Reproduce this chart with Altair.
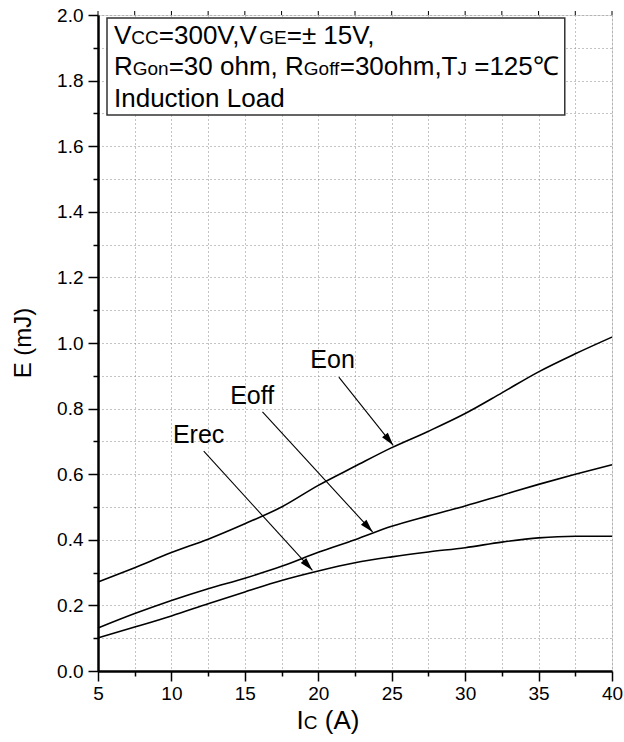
import math
import altair as alt
import pandas as pd

# ---------------- data ----------------
ic = [5, 7.5, 10, 12.5, 15, 17.5, 20, 22.5, 25, 27.5, 30, 32.5, 35, 37.5, 40]
eon = [0.271, 0.315, 0.361, 0.402, 0.449, 0.500, 0.566, 0.624, 0.681, 0.731, 0.785, 0.848, 0.912, 0.967, 1.018]
eoff = [0.131, 0.175, 0.215, 0.251, 0.283, 0.319, 0.362, 0.400, 0.441, 0.473, 0.503, 0.536, 0.569, 0.600, 0.629]
erec = [0.101, 0.134, 0.168, 0.205, 0.241, 0.276, 0.305, 0.330, 0.348, 0.363, 0.376, 0.393, 0.406, 0.411, 0.411]

x_ticks = [5, 7.5, 10, 12.5, 15, 17.5, 20, 22.5, 25, 27.5, 30, 32.5, 35, 37.5, 40]
y_ticks = [round(i * 0.1, 1) for i in range(21)]

label_names = ["Eon", "Eoff", "Erec"]
label_x = [20.97, 15.5, 11.85]
label_y = [0.947, 0.838, 0.718]
arrow_x1 = [21.4, 16.2, 12.2]
arrow_y1 = [0.896, 0.790, 0.670]
arrow_x2 = [25.1, 23.7, 19.6]
arrow_y2 = [0.688, 0.424, 0.307]

# ---------------- layout ----------------
W, H = 514, 656
XMIN, XMAX, YMIN, YMAX = 5, 40, 0, 2
FONT = "Liberation Sans"
F_BIG, F_SUB = 26, 19

rows = []
for name, vals in (("Eon", eon), ("Eoff", eoff), ("Erec", erec)):
    for xv, yv in zip(ic, vals):
        rows.append({"ic": xv, "e": yv, "s": name})
curves = pd.DataFrame(rows)

xs = W / (XMAX - XMIN)
ys = H / (YMAX - YMIN)
angles = []
for a, b, c, d in zip(arrow_x1, arrow_y1, arrow_x2, arrow_y2):
    dx = (c - a) * xs
    dy = -(d - b) * ys
    angles.append(math.degrees(math.atan2(dx, -dy)))
labels = pd.DataFrame({"t": label_names, "lx": label_x, "ly": label_y})
arrows = pd.DataFrame({"x1": arrow_x1, "y1": arrow_y1, "x2": arrow_x2, "y2": arrow_y2, "ang": angles})
topticks = pd.DataFrame({"tx": x_ticks})

xsc = alt.Scale(domain=[XMIN, XMAX], nice=False, zero=False)
ysc = alt.Scale(domain=[YMIN, YMAX], nice=False, zero=False)

x_axis = alt.Axis(
    values=x_ticks, title=None, grid=True, gridDash=[1, 3], gridColor="#888", gridWidth=1,
    labelExpr="datum.value % 5 == 0 ? datum.label : ''",
    tickSize={"condition": {"test": "datum.value % 5 != 0", "value": 5}, "value": 10},
    tickColor="black", tickWidth=1.5, domainColor="black", domainWidth=2.5,
    labelFont=FONT, labelFontSize=19, labelColor="black", labelPadding=3, labelFlush=False,
)
y_axis = alt.Axis(
    values=y_ticks, title=None, grid=True, gridDash=[1, 3], gridColor="#888", gridWidth=1,
    labelExpr="round(datum.value*10) % 2 == 0 ? format(datum.value, '.1f') : ''",
    tickSize={"condition": {"test": "round(datum.value*10) % 2 == 1", "value": 5}, "value": 10},
    tickColor="black", tickWidth=1.5, domainColor="black", domainWidth=2.5,
    labelFont=FONT, labelFontSize=19, labelColor="black", labelPadding=5,
)


def X(field):
    return alt.X(field, type="quantitative", scale=xsc, axis=x_axis, title=None)


def Y(field):
    return alt.Y(field, type="quantitative", scale=ysc, axis=y_axis, title=None)


lines = alt.Chart(curves).mark_line(interpolate="monotone", color="black", strokeWidth=1.6).encode(
    x=X("ic"), y=Y("e"), detail="s:N",
)
top_tick_marks = alt.Chart(topticks).mark_rule(color="black", strokeWidth=1).encode(
    x=X("tx"), y=alt.value(0), y2=alt.value(-4)
)

arrow_lines = alt.Chart(arrows).mark_rule(color="black", strokeWidth=1.1).encode(
    x=X("x1"), y=Y("y1"), x2="x2:Q", y2="y2:Q"
)
arrow_heads = alt.Chart(arrows).mark_point(
    shape="M0,0 L-0.28,1 L0.28,1 Z", filled=True, color="black", opacity=1, size=700, strokeWidth=0
).encode(x=X("x2"), y=Y("y2"), angle=alt.Angle("ang:Q", scale=None))

label_text = alt.Chart(labels).mark_text(
    font=FONT, fontSize=25, color="black", align="center", baseline="middle"
).encode(x=X("lx"), y=Y("ly"), text="t:N")

# ---------------- annotation box with subscripts ----------------
AW = {' ': 278, ',': 278, '=': 584, '±': 549, 'C': 722, 'E': 667, 'G': 778, 'I': 278, 'J': 500,
      'L': 556, 'R': 722, 'T': 611, 'V': 667, 'a': 556, 'c': 500, 'd': 556, 'f': 278, 'h': 556,
      'i': 222, 'm': 833, 'n': 556, 'o': 556, 't': 278, 'u': 556, '℃': 1000, '(': 333, ')': 333, 'A': 667}
for ch in "0123456789":
    AW[ch] = 556


def tw(s, fs):
    return sum(AW.get(ch, 556) for ch in s) * fs / 1000.0


box_lines = [
    [("V", F_BIG), ("CC", F_SUB), ("=300V,V", F_BIG), ("GE", F_SUB), ("=± 15V,", F_BIG)],
    [("R", F_BIG), ("Gon", F_SUB), ("=30 ohm, R", F_BIG), ("Goff", F_SUB), ("=30ohm,T", F_BIG),
     ("J", F_SUB), (" =125℃", F_BIG)],
    [("Induction Load", F_BIG)],
]
baselines = [29, 60, 92]   # relative to plot top
text_x0 = 16               # relative to plot left


def seg_chart(s, fs, x, y):
    return alt.Chart(pd.DataFrame({"a": [0]})).mark_text(
        font=FONT, fontSize=fs, color="black", align="left", baseline="alphabetic"
    ).encode(x=alt.value(x), y=alt.value(y), text=alt.value(s))


def place(segs, x0, y, out):
    cx = x0
    for s, fs in segs:
        lead = len(s) - len(s.lstrip(" "))
        cx += tw(" " * lead, fs)
        body = s.lstrip(" ")
        out.append(seg_chart(body, fs, cx, y))
        cx += tw(body, fs)
    return cx


layers = []
maxw = 0
for segs, bl in zip(box_lines, baselines):
    maxw = max(maxw, place(segs, text_x0, bl, layers))

box = alt.Chart(pd.DataFrame({"a": [0]})).mark_rect(
    fill="white", stroke="#333", strokeWidth=1.5
).encode(x=alt.value(9), x2=alt.value(maxw + 6), y=alt.value(3), y2=alt.value(100))

# x title: I_C (A)
xt_segs = [("I", F_BIG), ("C", F_SUB), (" (A)", F_BIG)]
xt_w = sum(tw(s, f) for s, f in xt_segs)
place(xt_segs, 230 - xt_w / 2, 714, layers)

ytitle = alt.Chart(pd.DataFrame({"a": [0]})).mark_text(
    font=FONT, fontSize=24, color="black", align="center", baseline="middle", angle=270
).encode(x=alt.value(-74), y=alt.value(H / 2), text=alt.value("E (mJ)"))

chart = alt.layer(
    lines, top_tick_marks, arrow_lines, arrow_heads, label_text, box, *layers, ytitle
).properties(
    width=W, height=H,
    autosize=alt.AutoSizeParams(type="none"),
    padding={"left": 98, "top": 15, "right": 12, "bottom": 71},
).configure_view(stroke="black", strokeWidth=1.5).configure(background="white")

chart.save("out.html", embed_options={"renderer": "svg", "actions": False})
